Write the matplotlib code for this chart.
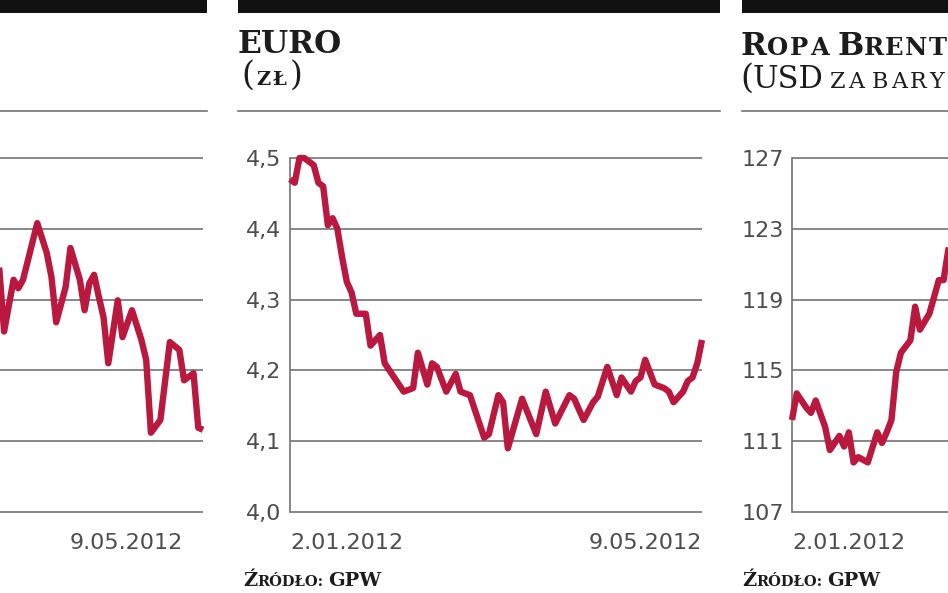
import matplotlib
matplotlib.use("Agg")
import matplotlib.pyplot as plt
from matplotlib.patches import Rectangle
from matplotlib.lines import Line2D
from matplotlib.transforms import offset_copy

W, H, DPI = 948, 593, 100
RED = "#b9193f"
GRID = "#737373"
LABEL = "#4d4d4d"
INK = "#1c1c1c"

# --- data ------------------------------------------------------------------
date_labels = ["2.01.2012", "9.05.2012"]
last_day = 87  # trading days between the two dates

# left panel (axis labels cut off in the picture, scale estimated)
wig_ticks = [2000, 2100, 2200, 2300, 2400, 2500]
wig_days = [43, 44, 45, 47, 48, 49, 52, 54, 55, 56, 58, 59, 61, 62, 63, 64, 65,
            66, 67, 69, 70, 72, 74, 75, 76, 78, 80, 82, 83, 85, 86, 87]
wig_values = [2380, 2342, 2255, 2328, 2316, 2328, 2408, 2366, 2332, 2268, 2318,
              2373, 2328, 2285, 2323, 2335, 2304, 2275, 2210, 2299, 2247, 2285,
              2243, 2215, 2112, 2130, 2240, 2229, 2186, 2196, 2119, 2116]

# EURO (zl)
euro_ticks = [4.0, 4.1, 4.2, 4.3, 4.4, 4.5]
euro_days = [0, 1, 2, 3, 5, 6, 7, 8, 9, 10, 11, 12, 13, 14, 16, 17, 19, 20, 22,
             24, 26, 27, 29, 30, 31, 33, 35, 36, 38, 39, 40, 41, 42, 44, 45, 46,
             49, 52, 54, 56, 59, 60, 62, 64, 65, 67, 69, 70, 72, 73, 74, 75, 77,
             79, 80, 81, 83, 84, 85, 86, 87]
euro_values = [4.47, 4.465, 4.50, 4.50, 4.49, 4.465, 4.46, 4.405, 4.415, 4.40,
               4.36, 4.325, 4.31, 4.28, 4.28, 4.235, 4.25, 4.21, 4.19, 4.17,
               4.175, 4.225, 4.18, 4.21, 4.205, 4.17, 4.195, 4.17, 4.165, 4.145,
               4.125, 4.105, 4.11, 4.165, 4.155, 4.09, 4.16, 4.11, 4.17, 4.125,
               4.165, 4.16, 4.13, 4.155, 4.163, 4.205, 4.165, 4.19, 4.17, 4.185,
               4.19, 4.215, 4.18, 4.175, 4.17, 4.155, 4.17, 4.185, 4.19, 4.21,
               4.243]

# Ropa Brent (USD za baryłkę)
brent_ticks = [107, 111, 115, 119, 123, 127]
brent_days = [0, 1, 3, 4, 5, 7, 8, 10, 11, 12, 13, 14, 16, 18, 19, 20, 21, 22,
              23, 25, 26, 27, 29, 31, 32, 33, 35]
brent_values = [112.2, 113.7, 112.9, 112.6, 113.3, 111.8, 110.5, 111.3, 110.7,
                111.5, 109.8, 110.1, 109.8, 111.5, 110.9, 111.5, 112.2, 114.9,
                116.0, 116.7, 118.6, 117.3, 118.2, 120.1, 120.1, 121.8, 123.5]


def fx(x):
    return x / W


def fy(y):
    return 1 - y / H


def text_runs(fig, x, y, runs, color=INK):
    """Draw pieces of text one after another on a common baseline (fake small caps).
    Each run: (text, size, weight, tracking_px); text None means a gap of `size` px."""
    renderer = fig.canvas.get_renderer()
    for s, size, weight, track in runs:
        if s is None:
            x += size
            continue
        pieces = list(s) if track else [s]
        for p in pieces:
            t = fig.text(fx(x), fy(y), p, fontsize=size, fontweight=weight,
                         family="DejaVu Serif", color=color, va="baseline", ha="left")
            x += t.get_window_extent(renderer).width + track


def header(fig, x0, x1):
    fig.patches.append(Rectangle((fx(x0), fy(12.5)), fx(x1 - x0), 12.5 / H,
                                 transform=fig.transFigure, color="#111111", lw=0))
    fig.lines.append(Line2D([fx(x0), fx(x1)], [fy(111), fy(111)],
                            transform=fig.transFigure, color=GRID, lw=1.2))


def panel(fig, left_px, days, values, ticks, fmt, last_label_shift=0, hidden_left=False):
    ax = fig.add_axes([fx(left_px), fy(512), 412 / W, 354 / H])
    ax.set_xlim(0, last_day)
    ax.set_ylim(ticks[0], ticks[-1])
    ax.hlines(ticks, 0, last_day, color=GRID, lw=1.2, clip_on=False, zorder=1)
    for side in ["top", "right", "bottom"]:
        ax.spines[side].set_visible(False)
    ax.spines["left"].set_color(GRID)
    ax.spines["left"].set_linewidth(1.2)
    ax.set_yticks(ticks)
    ax.set_yticklabels([fmt(t) for t in ticks])
    ax.set_xticks([0, last_day])
    ax.set_xticklabels(date_labels)
    ax.tick_params(length=0, labelsize=16, labelcolor=LABEL)
    ax.tick_params(axis="y", pad=6)
    ax.tick_params(axis="x", pad=15)
    labs = ax.get_xticklabels()
    labs[0].set_ha("left")
    labs[1].set_ha("right")
    if last_label_shift:
        labs[1].set_transform(offset_copy(labs[1].get_transform(), fig=fig,
                                          x=last_label_shift, y=0, units="dots"))
    if hidden_left:
        # the part of this panel left of the picture edge is not shown
        labs[0].set_visible(False)
        ax.tick_params(axis="y", labelleft=False)
        ax.spines["left"].set_visible(False)
    ax.plot(days, values, color=RED, lw=4.6, solid_joinstyle="round",
            solid_capstyle="butt", clip_on=False, zorder=3)
    ax.patch.set_alpha(0)
    return ax


fig = plt.figure(figsize=(W / DPI, H / DPI), dpi=DPI)
fig.patch.set_facecolor("white")

# left panel (mostly cut off)
header(fig, -300, 207)
panel(fig, 203 - 412, wig_days, wig_values, wig_ticks, lambda t: str(t),
      last_label_shift=-20, hidden_left=True)

# EURO
header(fig, 238, 720)
panel(fig, 290, euro_days, euro_values, euro_ticks,
      lambda t: f"{t:.1f}".replace(".", ","))
text_runs(fig, 238, 53, [("EURO", 22.5, "bold", 0)])
text_runs(fig, 241, 85, [("(", 24, "normal", 0), (None, 2, None, 0),
                         ("ZŁ", 14, "bold", 3), (")", 24, "normal", 0)])
text_runs(fig, 243, 586, [("Ź", 14, "bold", 0), ("RÓDŁO:", 10.5, "bold", 0),
                          (None, 5, None, 0), ("GPW", 14, "bold", 0)])

# Ropa Brent
header(fig, 742, 1250)
panel(fig, 792, brent_days, brent_values, brent_ticks, lambda t: str(t))
text_runs(fig, 740, 55, [("R", 22.5, "bold", 1), ("OPA", 17.5, "bold", 2),
                         (None, 6, None, 0), ("B", 22.5, "bold", 0),
                         ("RENT", 17.5, "bold", 1.5)])
text_runs(fig, 740, 88, [("(", 24, "normal", 0), ("USD", 22, "normal", 0),
                         (None, 6, None, 0), ("ZA", 16, "normal", 3),
                         (None, 4, None, 0), ("BARYŁKĘ", 16, "normal", 3),
                         (")", 24, "normal", 0)])
text_runs(fig, 742, 586, [("Ź", 14, "bold", 0), ("RÓDŁO:", 10.5, "bold", 0),
                          (None, 5, None, 0), ("GPW", 14, "bold", 0)])

fig.savefig("out.png", dpi=DPI)
